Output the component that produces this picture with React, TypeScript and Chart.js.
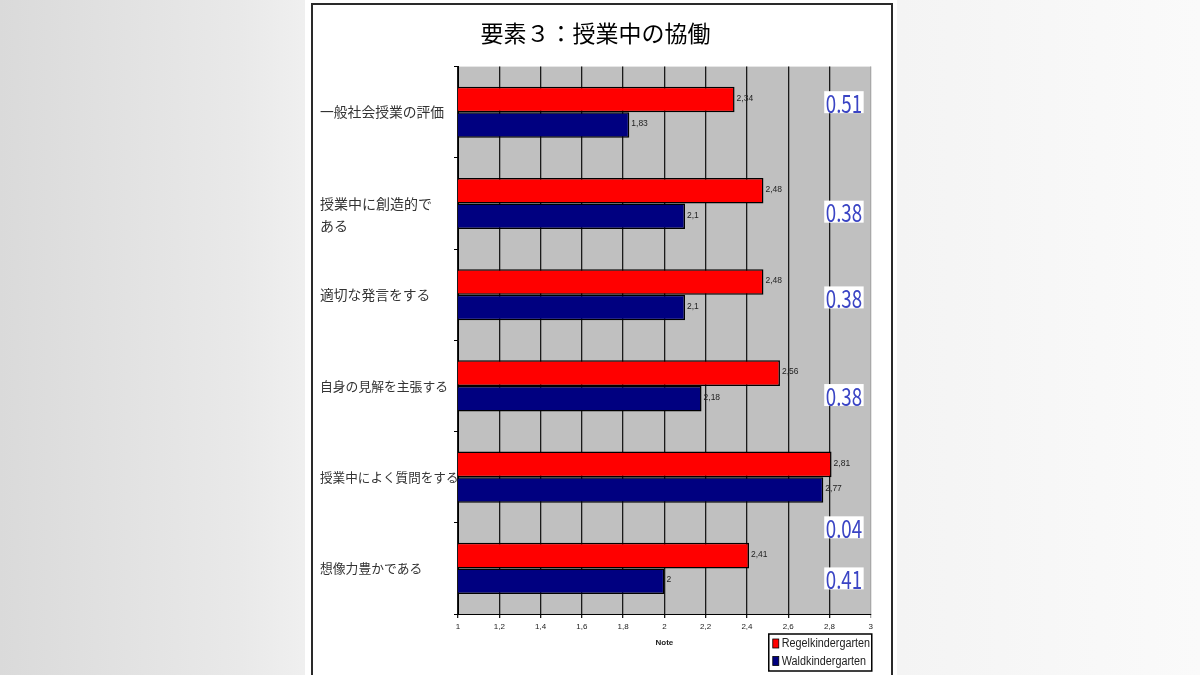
import { useEffect, useRef } from "react";
import { Chart, registerables } from "chart.js";

Chart.register(...registerables);

const kategorien = [
  "一般社会授業の評価",
  ["", "授業中に創造的で", "ある"],
  "適切な発言をする",
  "自身の見解を主張する",
  "授業中によく質問をする",
  "想像力豊かである",
];
const regelWerte = [2.34, 2.48, 2.48, 2.56, 2.81, 2.41];
const waldWerte = [1.83, 2.1, 2.1, 2.18, 2.77, 2];
const differenzen = ["0.51", "0.38", "0.38", "0.38", "0.04", "0.41"];
// where the little difference boxes sit, in category heights from the category centre
const differenzLage = [-0.11, 0.09, 0.03, 0.1, 0.55, 0.11];
const differenzX = 2.87;
const noteTicks = ["1", "1,2", "1,4", "1,6", "1,8", "2", "2,2", "2,4", "2,6", "2,8", "3"];
// the original labels are not all set in the same size
const labelGroessen = [13.8, 14, 13.8, 12.8, 12.6, 12.8];

const jpFont = "'Noto Sans CJK JP', 'Noto Sans', sans-serif";
const latFont = "'Liberation Sans', Arial, sans-serif";

const hintergrund = {
  id: "hintergrund",
  beforeDraw(chart: any) {
    const { ctx, chartArea: a } = chart;
    ctx.save();
    ctx.fillStyle = "#c0c0c0";
    ctx.fillRect(a.left, a.top, a.right - a.left, a.bottom - a.top);
    ctx.restore();
  },
};

const werteLabels = {
  id: "werteLabels",
  afterDatasetsDraw(chart: any) {
    const { ctx } = chart;
    ctx.save();
    ctx.font = `8.5px ${latFont}`;
    ctx.fillStyle = "#222";
    ctx.textAlign = "left";
    ctx.textBaseline = "middle";
    chart.data.datasets.forEach((ds: any, i: number) => {
      chart.getDatasetMeta(i).data.forEach((bar: any, j: number) => {
        ctx.fillText(String(ds.data[j]).replace(".", ","), bar.x + 2, bar.y - 1);
      });
    });
    ctx.restore();
  },
};

const differenzBoxen = {
  id: "differenzBoxen",
  afterDatasetsDraw(chart: any) {
    const { ctx } = chart;
    const x = chart.scales.x;
    const y = chart.scales.y;
    const band = y.getPixelForValue(1) - y.getPixelForValue(0);
    ctx.save();
    ctx.font = `25px ${jpFont}`;
    differenzen.forEach((t, i) => {
      const cx = x.getPixelForValue(differenzX);
      const cy = y.getPixelForValue(i) + differenzLage[i] * band;
      ctx.save();
      ctx.translate(cx, cy);
      ctx.scale(0.75, 1);
      const w = ctx.measureText(t).width;
      ctx.fillStyle = "#fff";
      ctx.fillRect(-w / 2 - 2, -11, w + 4, 22);
      ctx.fillStyle = "#3a44c4";
      ctx.textAlign = "center";
      ctx.textBaseline = "middle";
      ctx.fillText(t, 0, 1);
      ctx.restore();
    });
    ctx.restore();
  },
};

const legende = {
  id: "legende",
  afterDraw(chart: any) {
    const { ctx, chartArea: a } = chart;
    const bx = a.right - 102;
    const by = a.bottom + 20;
    ctx.save();
    ctx.fillStyle = "#fff";
    ctx.fillRect(bx, by, 103, 37);
    ctx.strokeStyle = "#000";
    ctx.lineWidth = 1.5;
    ctx.strokeRect(bx, by, 103, 37);
    chart.data.datasets.forEach((ds: any, i: number) => {
      const yy = by + 10 + i * 17.5;
      ctx.fillStyle = ds.backgroundColor;
      ctx.fillRect(bx + 4, yy - 5, 6, 9);
      ctx.lineWidth = 0.8;
      ctx.strokeRect(bx + 4, yy - 5, 6, 9);
      ctx.save();
      ctx.translate(bx + 13, yy);
      ctx.scale(0.9, 1);
      ctx.fillStyle = "#222";
      ctx.font = `12px ${latFont}`;
      ctx.textBaseline = "middle";
      ctx.fillText(ds.label, 0, 0);
      ctx.restore();
    });
    ctx.restore();
  },
};

export default function App() {
  const canvasRef = useRef<HTMLCanvasElement | null>(null);

  useEffect(() => {
    if (!canvasRef.current) return;
    const chart = new Chart(canvasRef.current, {
      type: "bar",
      data: {
        labels: kategorien as any,
        datasets: [
          {
            label: "Regelkindergarten",
            data: regelWerte,
            backgroundColor: "#ff0000",
            borderColor: "#000",
            borderWidth: 1.5,
            categoryPercentage: 0.56,
            barPercentage: 1,
          },
          {
            label: "Waldkindergarten",
            data: waldWerte,
            backgroundColor: "#000080",
            borderColor: "#000",
            borderWidth: 1.5,
            categoryPercentage: 0.56,
            barPercentage: 1,
          },
        ],
      },
      options: {
        indexAxis: "y",
        animation: false,
        responsive: true,
        maintainAspectRatio: false,
        layout: { padding: { left: 7, right: 6, top: 0, bottom: 21 } },
        plugins: {
          legend: { display: false },
          tooltip: { enabled: false },
          title: {
            display: true,
            text: "要素３：授業中の協働",
            color: "#000",
            font: { family: jpFont, size: 23, weight: "normal" },
            padding: { top: 14, bottom: 20 },
          },
        },
        scales: {
          x: {
            min: 1,
            max: 3,
            afterFit: (s: any) => {
              s.height = 40;
            },
            ticks: {
              stepSize: 0.2,
              padding: 4,
              color: "#222",
              font: { family: latFont, size: 8 },
              callback: (_v: any, i: number) => noteTicks[i],
            },
            grid: {
              color: (c: any) => (c.tick && c.tick.value === 3 ? "#a8a8a8" : "#1a1a1a"),
              lineWidth: 1.3,
              tickLength: 4,
            },
            border: { color: "#000", width: 1 },
            title: {
              display: true,
              text: "Note",
              color: "#222",
              font: { family: latFont, size: 8, weight: "bold" },
              padding: { top: 0, bottom: 6 },
            },
          },
          y: {
            afterFit: (s: any) => {
              s.width = 138;
            },
            ticks: {
              crossAlign: "far",
              color: "#333",
              font: (c: any) => ({ family: jpFont, size: labelGroessen[c.index] ?? 13, lineHeight: 1.57 }),
            },
            grid: { display: true, drawOnChartArea: false, tickLength: 4, color: "#000" },
            border: { color: "#000", width: 1 },
          },
        },
      },
      plugins: [hintergrund, werteLabels, differenzBoxen, legende],
    });
    return () => chart.destroy();
  }, []);

  return (
    <div
      style={{
        position: "fixed",
        left: 0,
        top: 0,
        width: 1200,
        height: 675,
        overflow: "hidden",
        background: "linear-gradient(to right, #dadada 0%, #e9e9e9 20%, #f0f0f0 26%, #f4f4f4 75%, #fafafa 100%)",
      }}
    >
      <div style={{ position: "absolute", left: 305, top: 0, width: 592, height: 675, background: "#fff" }} />
      <div
        style={{
          position: "absolute",
          left: 311,
          top: 3,
          width: 582,
          height: 700,
          border: "2px solid #2a2a2a",
          boxSizing: "border-box",
          background: "#fff",
        }}
      />
      <div style={{ position: "absolute", left: 313, top: 5, width: 564, height: 670 }}>
        <canvas ref={canvasRef} />
      </div>
    </div>
  );
}
